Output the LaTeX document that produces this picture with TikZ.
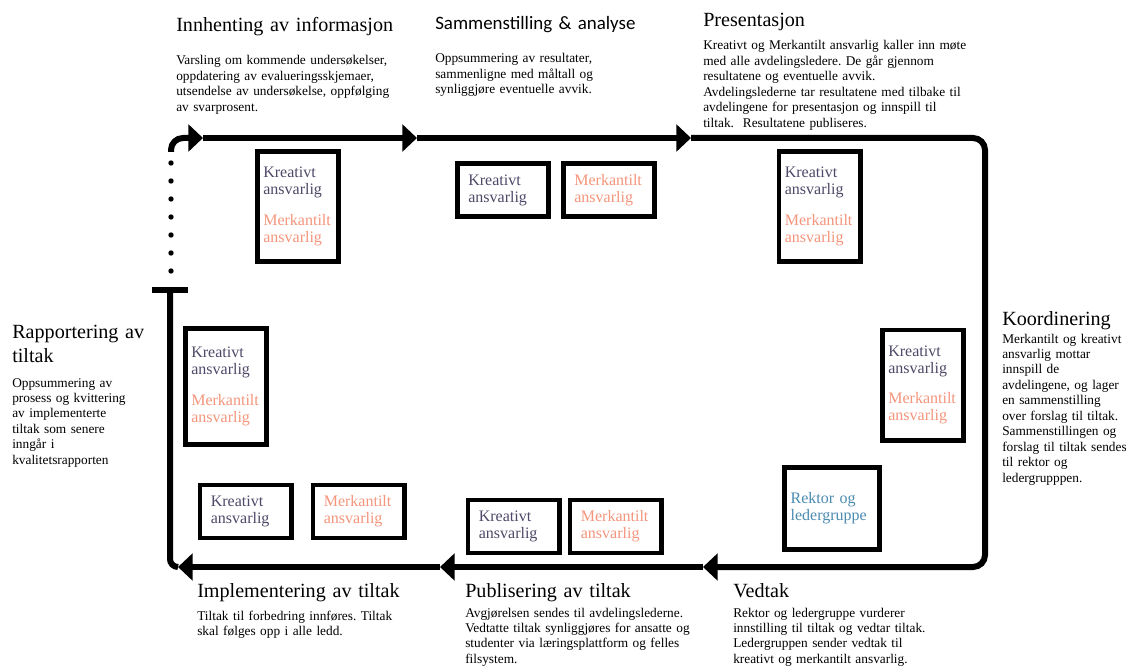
\documentclass[tikz,border=0pt]{standalone}
\usepackage{fontspec}
\setmainfont{Liberation Serif}
\newfontfamily\carlito{Carlito}
\usetikzlibrary{arrows.meta, positioning}
\frenchspacing
\definecolor{kreativ}{RGB}{80,72,104}
\definecolor{merkantil}{RGB}{244,149,124}
\definecolor{rektor}{RGB}{74,139,176}
\tikzstyle{heading} = [inner sep=0pt, anchor=base west, text width=7cm, align=left, font=\fontsize{15.1}{18}\selectfont]
\tikzstyle{body} = [inner sep=0pt, text width=8cm, align=left, font=\fontsize{10}{11.6}\selectfont]
\tikzstyle{rolle} = [rectangle, draw=black, line width=3.5pt, fill=white, text width=52pt, align=left, font=\fontsize{12}{12.75}\selectfont]
\tikzstyle{stacked} = [rolle, minimum width=61pt, minimum height=82.75pt]
\tikzstyle{single} = [rolle, minimum width=68.5pt, minimum height=39.75pt]
\tikzstyle{loop} = [line width=4.5pt]
\tikzstyle{arrow} = [loop, -{Triangle[length=11pt, width=20pt]}]
\tikzstyle{dotline} = [line width=4pt, line cap=round, dash pattern=on 0pt off 13.5pt]
\newcommand{\krea}{\color{kreativ}Kreativt\\ansvarlig}
\newcommand{\merk}{\color{merkantil}Merkantilt\\ansvarlig}

\begin{document}
\begin{tikzpicture}[x=0.75pt, y=-0.75pt]
\useasboundingbox (0,0) rectangle (1126,666);

% the loop
\coordinate (hook) at (171,152);
\coordinate (tl) at (171,138);
\coordinate (t1) at (203,138);
\coordinate (t2) at (417,138);
\coordinate (t3) at (691,138);
\coordinate (tr) at (985,138);
\coordinate (br) at (985,567);
\coordinate (b1) at (703,567);
\coordinate (b2) at (440,567);
\coordinate (b3) at (178,567);
\coordinate (bl) at (170,567);
\coordinate (bar) at (170,290);
\coordinate (barl) at (152,290);
\coordinate (barr) at (188,290);
\coordinate (d0) at (171,271);
\coordinate (d1) at (171,162);

\draw[arrow, rounded corners=9pt] (hook) -- (tl) -- (t1);
\draw[arrow] (t1) -- (t2);
\draw[arrow] (t2) -- (t3);
\draw[arrow, rounded corners=9pt] (t3) -- (tr) -- (br) -- (b1);
\draw[arrow] (b1) -- (b2);
\draw[arrow] (b2) -- (b3);
\draw[loop, rounded corners=6pt] (b3) -- (bl) -- (bar);
\draw[loop] (barl) -- (barr);
\draw[dotline] (d0) -- (d1);

% steps
\node (inn) [heading] at (176,32) {Innhenting av informasjon};
\node (inntxt) [body, below=24.75pt of inn.base west, anchor=base west] {Varsling om kommende undersøkelser,\\oppdatering av evalueringsskjemaer,\\utsendelse av undersøkelse, oppfølging\\av svarprosent.};

\node (sam) [heading, font=\carlito\fontsize{14.2}{17}\selectfont] at (435,30) {Sammenstilling \& analyse};
\node (samtxt) [body, below=24.75pt of sam.base west, anchor=base west] {Oppsummering av resultater,\\sammenligne med måltall og\\synliggjøre eventuelle avvik.};

\node (pre) [heading] at (703,27) {Presentasjon};
\node (pretxt) [body, below=17.25pt of pre.base west, anchor=base west] {Kreativt og Merkantilt ansvarlig kaller inn møte\\med alle avdelingsledere. De går gjennom\\resultatene og eventuelle avvik.\\Avdelingslederne tar resultatene med tilbake til\\avdelingene for presentasjon og innspill til\\tiltak.~ Resultatene publiseres.};

\node (koo) [heading] at (1002,325) {Koordinering};
\node (kootxt) [body, below=13.5pt of koo.base west, anchor=base west] {Merkantilt og kreativt\\ansvarlig mottar\\innspill de\\avdelingene, og lager\\en sammenstilling\\over forslag til tiltak.\\Sammenstillingen og\\forslag til tiltak sendes\\til rektor og\\ledergrupppen.};

\node (ved) [heading] at (733,597) {Vedtak};
\node (vedtxt) [body, below=15pt of ved.base west, anchor=base west] {Rektor og ledergruppe vurderer\\innstilling til tiltak og vedtar tiltak.\\Ledergruppen sender vedtak til\\kreativt og merkantilt ansvarlig.};

\node (pub) [heading] at (465,597) {Publisering av tiltak};
\node (pubtxt) [body, below=15pt of pub.base west, anchor=base west] {Avgjørelsen sendes til avdelingslederne.\\Vedtatte tiltak synliggjøres for ansatte og\\studenter via læringsplattform og felles\\filsystem.};

\node (imp) [heading] at (197,597) {Implementering av tiltak};
\node (imptxt) [body, below=17.25pt of imp.base west, anchor=base west] {Tiltak til forbedring innføres. Tiltak\\skal følges opp i alle ledd.};

\node (rap) [heading] at (12,338) {Rapportering av\\tiltak};
\node (raptxt) [body, below=36.75pt of rap.base west, anchor=base west] {Oppsummering av\\prosess og kvittering\\av implementerte\\tiltak som senere\\inngår i\\kvalitetsrapporten};

% who is responsible
\node (inn1) [stacked] at (298,206.5) {\krea\\[10pt]\merk};
\node (sam1) [single] at (503,190) {\krea};
\node (sam2) [single, right=7.5pt of sam1] {\merk};
\node (pre1) [stacked] at (819.5,206.5) {\krea\\[10pt]\merk};
\node (koo1) [stacked] at (923,385) {\krea\\[10pt]\merk};
\node (ved1) [rolle, minimum width=71.5pt, minimum height=61.75pt, text width=62pt, text=rektor] at (832,508.5) {Rektor og\\ledergruppe};
\node (pub1) [single] at (513.5,526.5) {\krea};
\node (pub2) [single, right=4.5pt of pub1] {\merk};
\node (imp1) [single] at (245.5,511.5) {\krea};
\node (imp2) [single, right=12.75pt of imp1] {\merk};
\node (rap1) [stacked, minimum height=87pt] at (226,386.5) {\krea\\[10pt]\merk};
\end{tikzpicture}
\end{document}
